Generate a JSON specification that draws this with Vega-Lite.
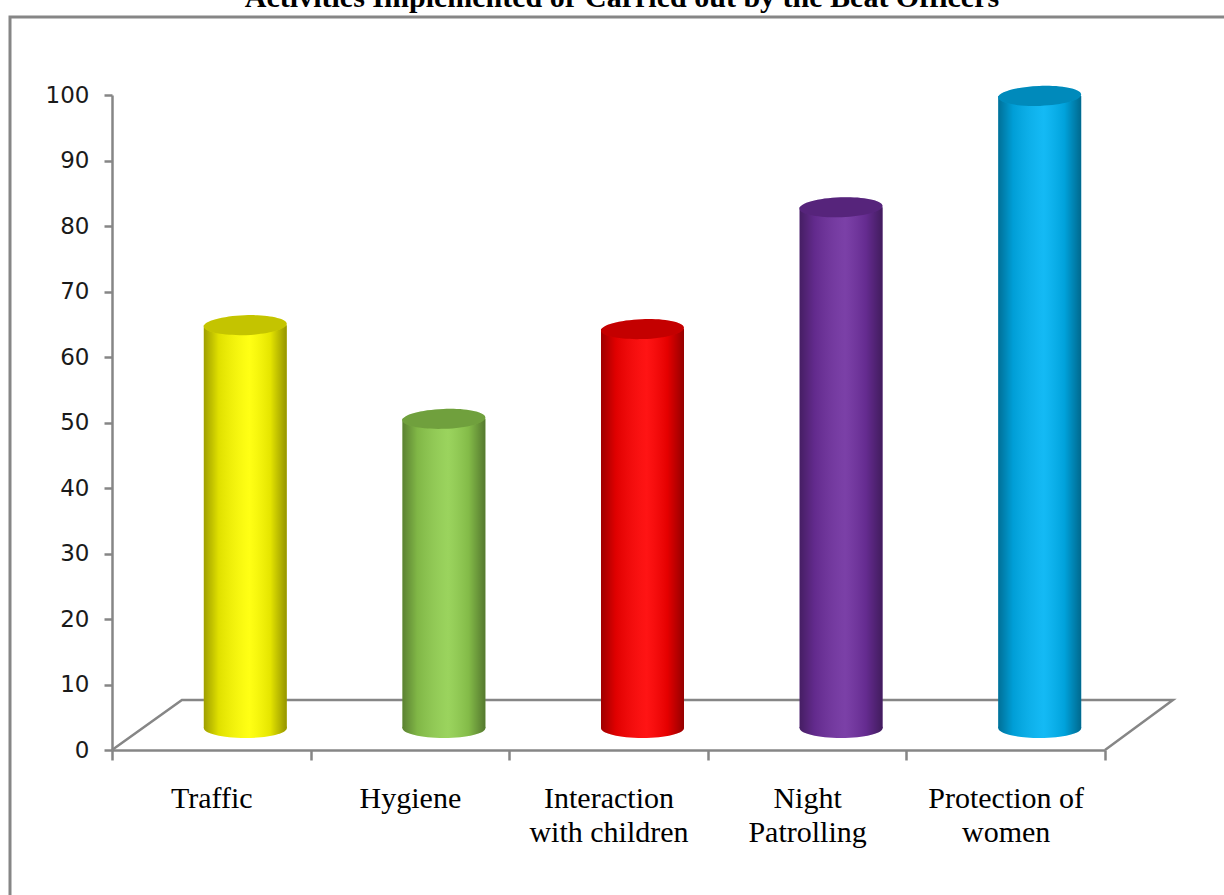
{
  "$schema": "https://vega.github.io/schema/vega-lite/v6.json",
  "width": 1244,
  "height": 908,
  "autosize": {"type": "none"},
  "padding": {"left": 10, "top": 17, "right": -30, "bottom": -30},
  "background": "white",
  "title": {
    "text": "Activities Implemented or Carried out by the Beat Officers",
    "font": "Liberation Serif",
    "fontSize": 30,
    "fontWeight": "bold",
    "color": "#000000",
    "offset": 4,
    "anchor": "middle",
    "dx": -10
  },
  "config": {"view": {"stroke": "#868686", "strokeWidth": 3}},
  "layer": [
    {
      "data": {"values": [
        {"i": 0, "k": 0, "v": 0},
        {"i": 1, "k": 0.352, "v": 7.63},
        {"i": 2, "k": 5.342, "v": 7.63},
        {"i": 3, "k": 5, "v": 0}
      ]},
      "mark": {"type": "line", "color": "#868686", "strokeWidth": 2.5},
      "encoding": {
        "x": {"field": "k", "type": "quantitative", "scale": {"domain": [0, 5], "range": [102, 1095], "nice": false, "zero": false}, "axis": null},
        "y": {
          "field": "v",
          "type": "quantitative",
          "scale": {"domain": [0, 100], "range": [733, 78], "nice": false},
          "axis": {
            "orient": "left",
            "offset": -102,
            "values": [0, 10, 20, 30, 40, 50, 60, 70, 80, 90, 100],
            "grid": false,
            "tickSize": 8,
            "tickColor": "#868686",
            "tickWidth": 2.5,
            "domainColor": "#868686",
            "domainWidth": 2.5,
            "labelFont": "DejaVu Sans",
            "labelFontSize": 23,
            "labelColor": "#1a1a1a",
            "labelPadding": 15,
            "title": null
          }
        },
        "order": {"field": "i", "type": "quantitative"}
      }
    },
    {
      "data": {"values": [
        {"Activity": "Traffic", "value": 61.5},
        {"Activity": "Hygiene", "value": 47.2},
        {"Activity": "Interaction with children", "value": 60.9},
        {"Activity": "Night Patrolling", "value": 79.5},
        {"Activity": "Protection of women", "value": 96.5}
      ]},
      "encoding": {
        "x": {
          "field": "Activity",
          "type": "nominal",
          "sort": null,
          "scale": {"range": [102, 1095], "paddingInner": 0, "paddingOuter": 0},
          "axis": {
            "orient": "bottom",
            "offset": -175,
            "tickBand": "extent",
            "tickSize": 10,
            "tickColor": "#868686",
            "tickWidth": 2.5,
            "domainColor": "#868686",
            "domainWidth": 2.5,
            "labelFont": "Liberation Serif",
            "labelFontSize": 30,
            "labelColor": "#000000",
            "labelPadding": 23,
            "labelLineHeight": 34,
            "labelAngle": 0,
            "labelLimit": 400,
            "labelOverlap": false,
            "labelExpr": "datum.label == 'Protection of women' ? ['Protection of', 'women'] : split(replace(datum.label, ' ', '|'), '|')",
            "title": null
          }
        }
      },
      "layer": [
        {
          "mark": {"type": "point", "shape": "M -1 0 A 1 0.24 0 1 1 1 0 A 1 0.24 0 1 1 -1 0 Z", "size": 6889, "filled": true, "opacity": 1, "strokeWidth": 0, "xOffset": 34, "yOffset": -22},
          "encoding": {
            "y": {"datum": 0, "type": "quantitative"},
            "color": {"field": "Activity", "type": "nominal", "scale": {"domain": ["Traffic", "Hygiene", "Interaction with children", "Night Patrolling", "Protection of women"], "range": ["#ffff00", "#92d050", "#ff0000", "#7030a0", "#00b4f4"]}, "legend": null}
          }
        },
        {
          "mark": {"type": "point", "shape": "M -1 0 A 1 0.24 0 1 1 1 0 A 1 0.24 0 1 1 -1 0 Z", "size": 6889, "filled": true, "opacity": 1, "strokeWidth": 0, "xOffset": 34, "yOffset": -22,
            "fill": {"gradient": "linear", "x1": 0, "x2": 1, "y1": 0, "y2": 0, "stops": [
              {"offset": 0, "color": "rgba(0,0,0,0.38)"},
              {"offset": 0.18, "color": "rgba(0,0,0,0.12)"},
              {"offset": 0.55, "color": "rgba(255,255,255,0.08)"},
              {"offset": 0.8, "color": "rgba(0,0,0,0.1)"},
              {"offset": 1, "color": "rgba(0,0,0,0.42)"}
            ]}},
          "encoding": {
            "y": {"datum": 0, "type": "quantitative"}
          }
        },
        {
          "mark": {"type": "bar", "width": 83, "xOffset": 34, "yOffset": -22, "y2Offset": -22},
          "encoding": {
            "y": {"field": "value", "type": "quantitative"},
            "y2": {"datum": 0},
            "color": {"field": "Activity", "type": "nominal", "legend": null}
          }
        },
        {
          "mark": {"type": "bar", "width": 83, "xOffset": 34, "yOffset": -22, "y2Offset": -22,
            "fill": {"gradient": "linear", "x1": 0, "x2": 1, "y1": 0, "y2": 0, "stops": [
              {"offset": 0, "color": "rgba(0,0,0,0.38)"},
              {"offset": 0.18, "color": "rgba(0,0,0,0.12)"},
              {"offset": 0.55, "color": "rgba(255,255,255,0.08)"},
              {"offset": 0.8, "color": "rgba(0,0,0,0.1)"},
              {"offset": 1, "color": "rgba(0,0,0,0.42)"}
            ]}},
          "encoding": {
            "y": {"field": "value", "type": "quantitative"},
            "y2": {"datum": 0}
          }
        },
        {
          "mark": {"type": "point", "shape": "M -1 0 A 1 0.24 0 1 1 1 0 A 1 0.24 0 1 1 -1 0 Z", "size": 6889, "filled": true, "opacity": 1, "strokeWidth": 0, "angle": -2, "xOffset": 34, "yOffset": -22},
          "encoding": {
            "y": {"field": "value", "type": "quantitative"},
            "color": {"field": "Activity", "type": "nominal", "legend": null}
          }
        },
        {
          "mark": {"type": "point", "shape": "M -1 0 A 1 0.24 0 1 1 1 0 A 1 0.24 0 1 1 -1 0 Z", "size": 6889, "filled": true, "fill": "#000000", "opacity": 0.23, "strokeWidth": 0, "angle": -2, "xOffset": 34, "yOffset": -22},
          "encoding": {
            "y": {"field": "value", "type": "quantitative"}
          }
        }
      ]
    }
  ],
  "resolve": {"scale": {"x": "independent"}}
}
